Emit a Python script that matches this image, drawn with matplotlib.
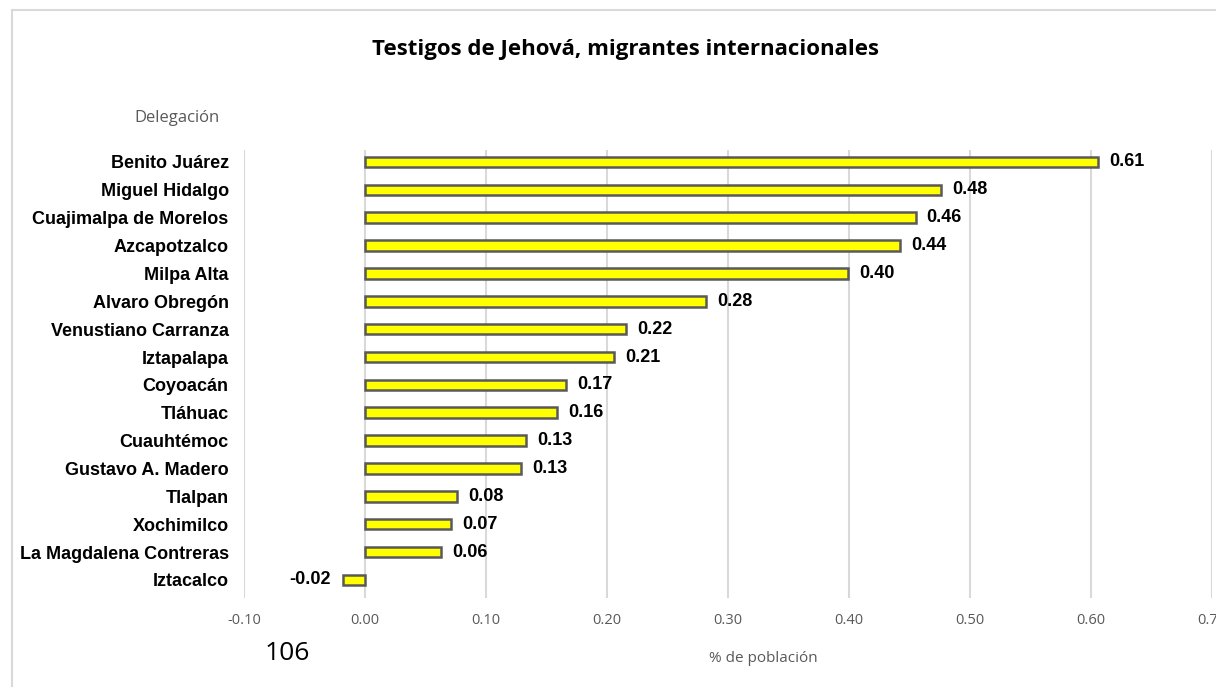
import numpy as np
import matplotlib.pyplot as plt
from matplotlib.patches import Rectangle

# datos
delegaciones = ["Benito Juárez", "Miguel Hidalgo", "Cuajimalpa de Morelos", "Azcapotzalco",
                "Milpa Alta", "Alvaro Obregón", "Venustiano Carranza", "Iztapalapa",
                "Coyoacán", "Tláhuac", "Cuauhtémoc", "Gustavo A. Madero",
                "Tlalpan", "Xochimilco", "La Magdalena Contreras", "Iztacalco"]
valores = [0.606, 0.476, 0.455, 0.442, 0.399, 0.282, 0.216, 0.206,
           0.166, 0.159, 0.133, 0.129, 0.076, 0.071, 0.063, -0.018]
xticks = [-0.10, 0.00, 0.10, 0.20, 0.30, 0.40, 0.50, 0.60, 0.70]

fig = plt.figure(figsize=(12.16, 6.87), dpi=100)
fig.patches.append(Rectangle((12/1216, -0.1), 1.2, 1 - 10/687 + 0.1, transform=fig.transFigure,
                             fill=False, edgecolor="#D9D9D9", linewidth=1.5))

ax = fig.add_axes([244/1216, 1 - 598/687, (1212 - 244)/1216, (598 - 150)/687])
y = np.arange(len(delegaciones))
ax.barh(y, valores, height=0.38, color="#FFFF00", edgecolor="#595959", linewidth=1.8, zorder=3)

ax.set_xlim(-0.10, 0.70)
ax.set_ylim(15.65, -0.43)
ax.set_xticks(xticks)
ax.set_xticklabels([f"{t:.2f}" for t in xticks], color="#595959", fontsize=10.5, family="Open Sans")
ax.set_yticks(y)
ax.set_yticklabels(delegaciones, fontsize=13, fontweight="bold", family="Liberation Sans")
ax.tick_params(axis="y", length=0, pad=11)
ax.tick_params(axis="x", length=0, pad=11)
ax.grid(axis="x", color="#D9D9D9", linewidth=1.5, zorder=0)
for s in ax.spines.values():
    s.set_visible(False)

for yi, v in zip(y, valores):
    if v >= 0:
        ax.annotate(f"{v:.2f}", (v, yi), xytext=(8, 0), textcoords="offset points",
                    ha="left", va="center", fontsize=13, fontweight="bold", family="Liberation Sans")
    else:
        ax.annotate(f"{v:.2f}", (v, yi), xytext=(-9, 0), textcoords="offset points",
                    ha="right", va="center", fontsize=13, fontweight="bold", family="Liberation Sans")

fig.text(625/1216, 1 - 49/687, "Testigos de Jehová, migrantes internacionales",
         ha="center", va="center", fontsize=16, fontweight="bold", family="Open Sans")
fig.text(177/1216, 1 - 118/687, "Delegación", ha="center", va="center",
         fontsize=12, color="#595959", family="Open Sans")
fig.text(763/1216, 1 - 658/687, "% de población", ha="center", va="center",
         fontsize=11, color="#595959", family="Open Sans")
fig.text(287/1216, 1 - 654/687, "106", ha="center", va="center", fontsize=19, family="Open Sans")

fig.savefig("out.png", dpi=100)
